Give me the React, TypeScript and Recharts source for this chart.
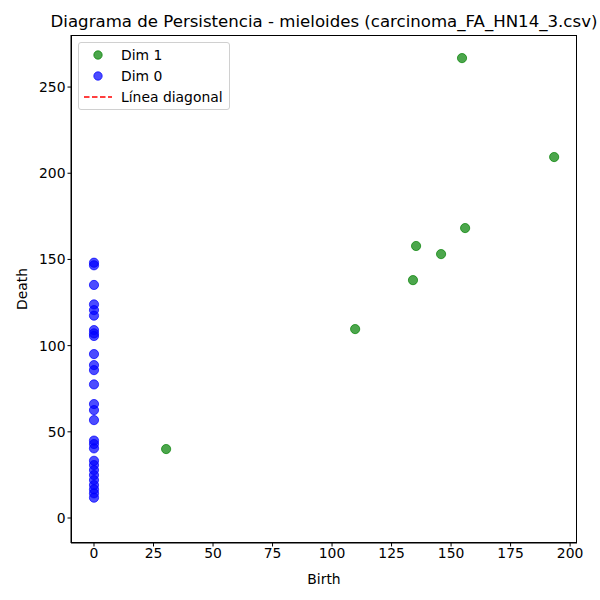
import React from "react";
import { ScatterChart, Scatter, XAxis, YAxis } from "recharts";

// persistence pairs
const dim1Birth = [30.3, 109.7, 134.0, 135.3, 145.8, 155.9, 154.6, 193.3];
const dim1Death = [40.0, 109.6, 138.0, 157.8, 153.1, 168.2, 266.8, 209.4];

const dim0Death = [
  148.1, 146.6, 135.2, 123.9, 120.6, 117.4, 109.0, 107.1, 105.6, 95.1, 88.7,
  85.8, 77.5, 66.1, 62.6, 56.8, 44.9, 42.9, 40.4, 33.2, 30.7, 27.8, 24.9, 22.0,
  19.1, 16.6, 14.3, 11.8,
];

const xTicks = [0, 25, 50, 75, 100, 125, 150, 175, 200];
const yTicks = [0, 50, 100, 150, 200, 250];

const dim1 = dim1Birth.map((b, i) => ({ x: b, y: dim1Death[i] }));
const dim0 = dim0Death.map((d) => ({ x: 0, y: d }));

const FONT = "DejaVu Sans, sans-serif";

const dot = (color: string) => (props: any) => (
  <circle
    cx={props.cx}
    cy={props.cy}
    r={4.6}
    fill={color}
    fillOpacity={0.7}
    stroke={color}
    strokeOpacity={0.7}
    strokeWidth={1}
  />
);

const legendItems = [
  { name: "Dim 1", color: "#008000", kind: "dot" },
  { name: "Dim 0", color: "#0000ff", kind: "dot" },
  { name: "Línea diagonal", color: "#ff0000", kind: "line" },
];

function LegendBox() {
  return (
    <div
      style={{
        position: "absolute",
        left: 78,
        top: 42,
        width: 152,
        height: 68,
        border: "1px solid #d0d0d0",
        borderRadius: 3,
        background: "rgba(255,255,255,0.8)",
        fontFamily: FONT,
        fontSize: 13.9,
        color: "#000",
        boxSizing: "border-box",
        paddingTop: 2,
      }}
    >
      {legendItems.map((item) => (
        <div
          key={item.name}
          style={{ display: "flex", alignItems: "center", height: 20.8 }}
        >
          <svg width={42} height={14} style={{ flex: "none" }}>
            {item.kind === "dot" ? (
              <circle
                cx={19}
                cy={7}
                r={4.2}
                fill={item.color}
                fillOpacity={0.7}
                stroke={item.color}
                strokeOpacity={0.7}
              />
            ) : (
              <line
                x1={5}
                x2={33}
                y1={7}
                y2={7}
                stroke={item.color}
                strokeWidth={1.5}
                strokeDasharray="5.5 2.5"
              />
            )}
          </svg>
          <span>{item.name}</span>
        </div>
      ))}
    </div>
  );
}

export default function App() {
  return (
    <div
      style={{
        position: "fixed",
        left: 0,
        top: 0,
        width: 600,
        height: 600,
        background: "#fff",
        overflow: "hidden",
      }}
    >
      <div
        style={{
          position: "absolute",
          left: 24,
          width: 600,
          top: 12,
          textAlign: "center",
          fontFamily: FONT,
          fontSize: 16.6,
          color: "#000",
          whiteSpace: "nowrap",
        }}
      >
        Diagrama de Persistencia - mieloides (carcinoma_FA_HN14_3.csv)
      </div>
      <ScatterChart
        width={600}
        height={600}
        margin={{ top: 35, right: 23, bottom: 0, left: 10 }}
        style={{ position: "absolute", left: 0, top: 0 }}
      >
        <XAxis
          type="number"
          dataKey="x"
          domain={[-9.66, 202.9]}
          ticks={xTicks}
          allowDataOverflow
          height={57}
          tickSize={3.5}
          tickLine={{ stroke: "#000" }}
          axisLine={{ stroke: "#000" }}
          tick={{ fill: "#000", fontSize: 13.9, fontFamily: FONT }}
          label={{
            value: "Birth",
            position: "insideBottom",
            offset: 16,
            fill: "#000",
            fontSize: 13.9,
            fontFamily: FONT,
          }}
        />
        <YAxis
          type="number"
          dataKey="y"
          domain={[-14.5, 280.2]}
          ticks={yTicks}
          allowDataOverflow
          width={61}
          tickSize={3.5}
          tickLine={{ stroke: "#000" }}
          axisLine={{ stroke: "#000" }}
          tick={{ fill: "#000", fontSize: 13.9, fontFamily: FONT }}
          label={{
            content: () => (
              <text
                x={22}
                y={289}
                transform="rotate(-90 22 289)"
                textAnchor="middle"
                dominantBaseline="central"
                fill="#000"
                fontSize={13.9}
                fontFamily={FONT}
              >
                Death
              </text>
            ),
          }}
        />
        <Scatter
          name="Dim 1"
          data={dim1}
          shape={dot("#008000")}
          isAnimationActive={false}
        />
        <Scatter
          name="Dim 0"
          data={dim0}
          shape={dot("#0000ff")}
          isAnimationActive={false}
        />
      </ScatterChart>
      {/* matplotlib frame: all four spines */}
      <div
        style={{
          position: "absolute",
          left: 71,
          top: 35,
          width: 506,
          height: 508,
          border: "1px solid #000",
          boxSizing: "border-box",
          pointerEvents: "none",
        }}
      />
      <LegendBox />
    </div>
  );
}
